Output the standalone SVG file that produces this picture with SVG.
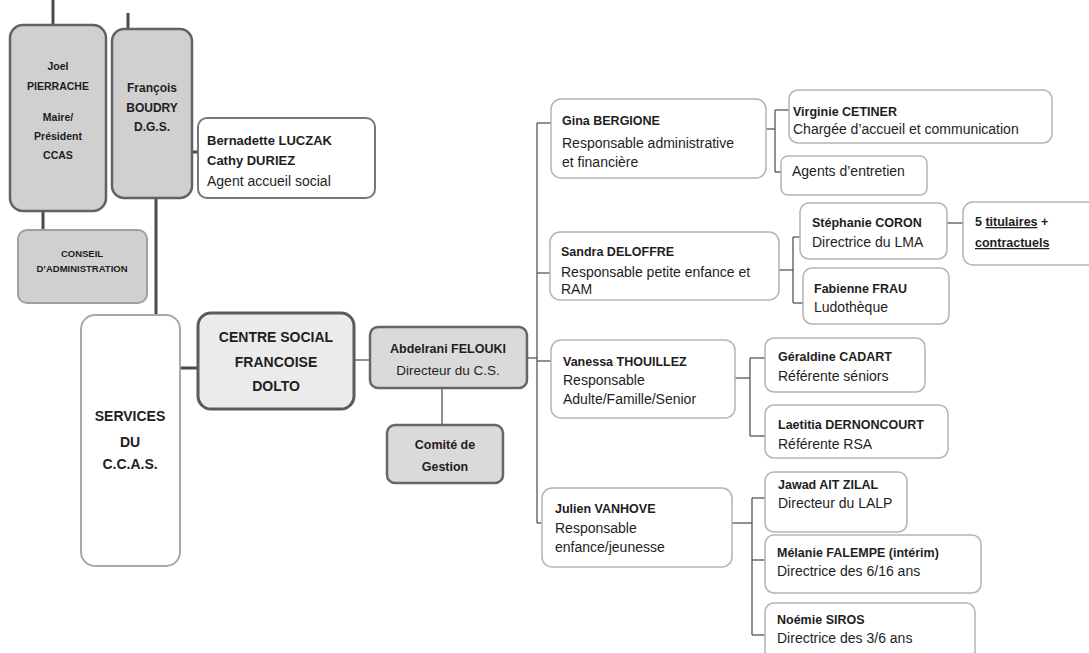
<svg xmlns="http://www.w3.org/2000/svg" width="1089" height="653" viewBox="0 0 1089 653">
<style>
text{font-family:"Liberation Sans",Arial,sans-serif;fill:#1e1e1e}
.b{font-weight:bold;font-size:12.5px}
.r{font-size:14px}
.c{text-anchor:middle}
.dk{fill:#d0d0d0;stroke:#626262;stroke-width:2.5}
.lt{fill:#ebebeb;stroke:#5a5a5a;stroke-width:3}
.md{fill:#dadada;stroke:#666;stroke-width:2.5}
.w{fill:#fff;stroke:#b4b4b4;stroke-width:1.5}
.cn line{stroke:#555;stroke-width:1.3}
.cn .t{stroke:#4a4a4a;stroke-width:3}
.u{text-decoration:underline}
</style>
<rect width="1089" height="653" fill="#fff"/>
<g class="cn" id="connectors">
<line class="t" x1="53" y1="0" x2="53" y2="25"/>
<line class="t" x1="128" y1="13" x2="128" y2="29"/>
<line x1="95" y1="107" x2="100" y2="107" style="stroke:#999;stroke-width:2"/>
<line class="t" x1="180" y1="152" x2="198" y2="152"/>
<line class="t" x1="43" y1="211" x2="43" y2="230"/>
<line class="t" x1="156" y1="198" x2="156" y2="315"/>
<line class="t" x1="179" y1="368" x2="198" y2="368"/>
<line x1="354" y1="360" x2="370" y2="360"/>
<line x1="442" y1="388" x2="442" y2="425"/>
<line x1="527" y1="358" x2="537" y2="358"/>
<line x1="537" y1="123" x2="537" y2="523"/>
<line x1="537" y1="123" x2="551" y2="123"/>
<line x1="537" y1="273" x2="550" y2="273"/>
<line x1="537" y1="361" x2="551" y2="361"/>
<line x1="537" y1="523" x2="542" y2="523"/>
<line x1="766" y1="129" x2="775" y2="129"/>
<line x1="775" y1="110" x2="775" y2="172"/>
<line x1="775" y1="110" x2="789" y2="110"/>
<line x1="775" y1="172" x2="781" y2="172"/>
<line x1="779" y1="270" x2="793" y2="270"/>
<line x1="793" y1="237" x2="793" y2="303"/>
<line x1="793" y1="237" x2="800" y2="237"/>
<line x1="793" y1="303" x2="803" y2="303"/>
<line x1="947" y1="223" x2="963" y2="223"/>
<line x1="735" y1="378" x2="750" y2="378"/>
<line x1="750" y1="358" x2="750" y2="436"/>
<line x1="750" y1="358" x2="765" y2="358"/>
<line x1="750" y1="436" x2="765" y2="436"/>
<line x1="732" y1="523" x2="752" y2="523"/>
<line x1="752" y1="498" x2="752" y2="635"/>
<line x1="752" y1="498" x2="765" y2="498"/>
<line x1="752" y1="560" x2="765" y2="560"/>
<line x1="752" y1="635" x2="765" y2="635"/>
</g>
<g id="joel">
<rect class="dk" x="10" y="25" width="96" height="186" rx="13"/>
<text class="c" style="font-weight:bold;font-size:10.5px"><tspan x="58" y="70">Joel</tspan><tspan x="58" y="90">PIERRACHE</tspan><tspan x="58" y="121">Maire/</tspan><tspan x="58" y="140">Président</tspan><tspan x="58" y="159">CCAS</tspan></text>
</g>
<g id="francois">
<rect class="dk" x="112" y="29" width="80" height="169" rx="12"/>
<text class="c" style="font-weight:bold;font-size:12px"><tspan x="152" y="92">François</tspan><tspan x="152" y="112">BOUDRY</tspan><tspan x="152" y="131">D.G.S.</tspan></text>
</g>
<g id="bernadette">
<rect class="w" x="198" y="118" width="177" height="80" rx="9" style="stroke:#777;stroke-width:2"/>
<text class="b" x="207" y="145" style="font-size:13px">Bernadette LUCZAK</text>
<text class="b" x="207" y="165" style="font-size:13px">Cathy DURIEZ</text>
<text class="r" x="207" y="186">Agent accueil social</text>
</g>
<g id="conseil">
<rect class="dk" x="18" y="230" width="129" height="73" rx="9" style="stroke:#a0a0a0;stroke-width:2"/>
<text class="c" style="font-weight:bold;font-size:9.5px"><tspan x="82" y="257">CONSEIL</tspan><tspan x="82" y="272">D’ADMINISTRATION</tspan></text>
</g>
<g id="services">
<rect class="w" x="81" y="315" width="99" height="251" rx="14" style="stroke:#a8a8a8;stroke-width:2"/>
<text class="c" style="font-weight:bold;font-size:14px"><tspan x="130" y="421">SERVICES</tspan><tspan x="130" y="447">DU</tspan><tspan x="130" y="469">C.C.A.S.</tspan></text>
</g>
<g id="centre">
<rect class="lt" x="198" y="313" width="156" height="96" rx="13"/>
<text class="c" style="font-weight:bold;font-size:14px"><tspan x="276" y="342">CENTRE SOCIAL</tspan><tspan x="276" y="367">FRANCOISE</tspan><tspan x="276" y="391">DOLTO</tspan></text>
</g>
<g id="abdelrani">
<rect class="md" x="370" y="327" width="157" height="61" rx="8"/>
<text class="c b" x="448" y="353">Abdelrani FELOUKI</text>
<text class="c r" x="448" y="375" style="font-size:13.5px">Directeur du C.S.</text>
</g>
<g id="comite">
<rect class="md" x="387" y="425" width="116" height="58" rx="8"/>
<text class="c b"><tspan x="445" y="449">Comité de</tspan><tspan x="445" y="471">Gestion</tspan></text>
</g>
<g id="gina">
<rect class="w" x="551" y="99" width="215" height="79" rx="10"/>
<text class="b" x="562" y="125">Gina BERGIONE</text>
<text class="r" x="562" y="148">Responsable administrative</text>
<text class="r" x="562" y="167">et financière</text>
</g>
<g id="virginie">
<rect class="w" x="789" y="90" width="263" height="53" rx="9"/>
<text class="b" x="793" y="116">Virginie CETINER</text>
<text class="r" x="793" y="134">Chargée d’accueil et communication</text>
</g>
<g id="agents">
<rect class="w" x="781" y="156" width="146" height="39" rx="7"/>
<text class="r" x="792" y="176">Agents d’entretien</text>
</g>
<g id="sandra">
<rect class="w" x="550" y="232" width="229" height="68" rx="10"/>
<text class="b" x="561" y="256">Sandra DELOFFRE</text>
<text class="r" x="561" y="277">Responsable petite enfance et</text>
<text class="r" x="561" y="294">RAM</text>
</g>
<g id="stephanie">
<rect class="w" x="800" y="203" width="147" height="56" rx="9"/>
<text class="b" x="812" y="227">Stéphanie CORON</text>
<text class="r" x="812" y="247">Directrice du LMA</text>
</g>
<g id="fabienne">
<rect class="w" x="803" y="268" width="146" height="56" rx="9"/>
<text class="b" x="814" y="293">Fabienne FRAU</text>
<text class="r" x="814" y="312">Ludothèque</text>
</g>
<g id="titulaires">
<rect class="w" x="963" y="202" width="140" height="63" rx="10"/>
<text class="b" x="975" y="226">5 <tspan class="u">titulaires</tspan> +</text>
<text class="b u" x="975" y="247">contractuels</text>
</g>
<g id="vanessa">
<rect class="w" x="551" y="340" width="184" height="78" rx="10"/>
<text class="b" x="563" y="366">Vanessa THOUILLEZ</text>
<text class="r" x="563" y="385">Responsable</text>
<text class="r" x="563" y="404">Adulte/Famille/Senior</text>
</g>
<g id="geraldine">
<rect class="w" x="765" y="338" width="160" height="54" rx="9"/>
<text class="b" x="778" y="361">Géraldine CADART</text>
<text class="r" x="778" y="381">Référente séniors</text>
</g>
<g id="laetitia">
<rect class="w" x="765" y="405" width="183" height="53" rx="9"/>
<text class="b" x="778" y="429">Laetitia DERNONCOURT</text>
<text class="r" x="778" y="449">Référente RSA</text>
</g>
<g id="julien">
<rect class="w" x="542" y="488" width="190" height="79" rx="10"/>
<text class="b" x="555" y="513">Julien VANHOVE</text>
<text class="r" x="555" y="533">Responsable</text>
<text class="r" x="555" y="552">enfance/jeunesse</text>
</g>
<g id="jawad">
<rect class="w" x="765" y="472" width="142" height="60" rx="9"/>
<text class="b" x="778" y="489">Jawad AIT ZILAL</text>
<text class="r" x="778" y="508">Directeur du LALP</text>
</g>
<g id="melanie">
<rect class="w" x="765" y="535" width="216" height="58" rx="9"/>
<text class="b" x="777" y="557">Mélanie FALEMPE (intérim)</text>
<text class="r" x="777" y="576">Directrice des 6/16 ans</text>
</g>
<g id="noemie">
<rect class="w" x="765" y="603" width="210" height="60" rx="9"/>
<text class="b" x="777" y="624">Noémie SIROS</text>
<text class="r" x="777" y="643">Directrice des 3/6 ans</text>
</g>
</svg>
